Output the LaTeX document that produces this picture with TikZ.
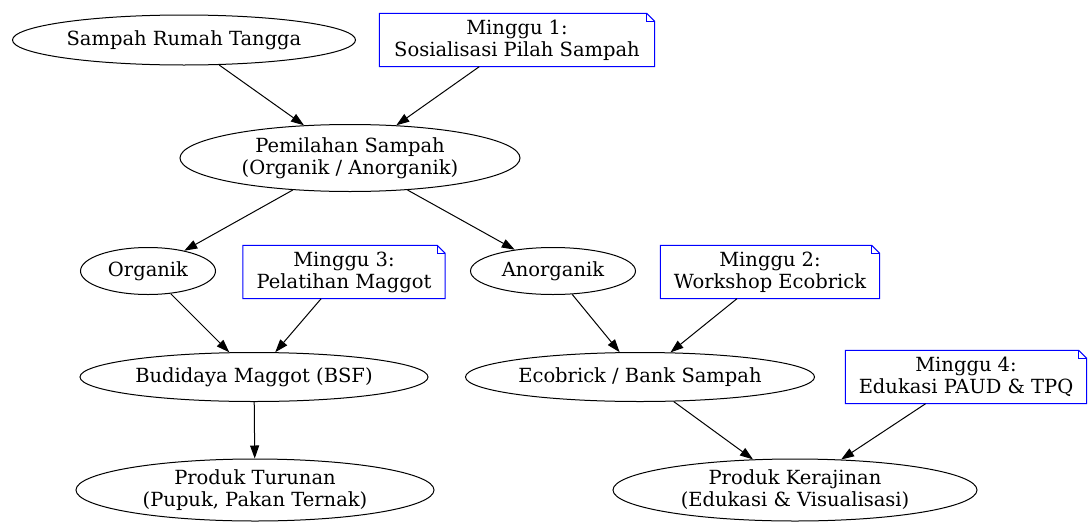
\documentclass[tikz,border=0pt]{standalone}
\usepackage{fontspec}
\setmainfont{DejaVu Serif}
\usetikzlibrary{shapes.geometric,arrows.meta}
\tikzset{
  oval/.style={draw,ellipse,align=center,inner sep=0pt,line width=1pt,font=\fontsize{19.5}{22}\selectfont},
  memo/.style={align=center,inner sep=2pt,font=\fontsize{19.5}{22}\selectfont,minimum height=53pt},
  flow/.style={-{Triangle[length=13pt,width=9pt]},line width=1pt}
}
% folded corner note outline
\newcommand{\foldnote}[1]{%
  \draw[blue,line width=1pt] (#1.north west) -- ([xshift=-8pt]#1.north east)
    -- ([yshift=-8pt]#1.north east) -- (#1.south east) -- (#1.south west) -- cycle;
  \draw[blue,line width=1pt] ([xshift=-8pt]#1.north east) |- ([yshift=-8pt]#1.north east);}
\begin{document}
\begin{tikzpicture}[x=1pt,y=-1pt]
\useasboundingbox (0,0) rectangle (1092,525);
% top row
\node[oval,minimum width=343pt,minimum height=50pt] (rumah) at (184,40) {Sampah Rumah Tangga};
\node[memo,minimum width=275pt] (m1) at (517,40) {Minggu 1:\\Sosialisasi Pilah Sampah};
\node[oval,minimum width=340pt,minimum height=67pt] (pilah) at (350,158) {Pemilahan Sampah\\(Organik / Anorganik)};
% second row
\node[oval,minimum width=135pt,minimum height=47pt] (org) at (148,271) {Organik};
\node[memo,minimum width=202pt] (m3) at (344,272) {Minggu 3:\\Pelatihan Maggot};
\node[oval,minimum width=165pt,minimum height=47pt] (anorg) at (553,271) {Anorganik};
\node[memo,minimum width=219pt] (m2) at (770,272) {Minggu 2:\\Workshop Ecobrick};
% third row
\node[oval,minimum width=348pt,minimum height=49pt] (maggot) at (254,377) {Budidaya Maggot (BSF)};
\node[oval,minimum width=349pt,minimum height=49pt] (eco) at (640,377) {Ecobrick / Bank Sampah};
\node[memo,minimum width=241pt] (m4) at (966,377) {Minggu 4:\\Edukasi PAUD \& TPQ};
% bottom row
\node[oval,minimum width=358pt,minimum height=62pt] (turunan) at (255,490) {Produk Turunan\\(Pupuk, Pakan Ternak)};
\node[oval,minimum width=364pt,minimum height=62pt] (kerajinan) at (795,490) {Produk Kerajinan\\(Edukasi \& Visualisasi)};
\foldnote{m1}
\foldnote{m2}
\foldnote{m3}
\foldnote{m4}
% edges
\draw[flow] (rumah) -- (pilah);
\draw[flow] (m1) -- (pilah);
\draw[flow] (pilah) -- (org);
\draw[flow] (pilah) -- (anorg);
\draw[flow] (org) -- (maggot);
\draw[flow] (m3) -- (maggot);
\draw[flow] (anorg) -- (eco);
\draw[flow] (m2) -- (eco);
\draw[flow] (maggot) -- (turunan);
\draw[flow] (eco) -- (kerajinan);
\draw[flow] (m4) -- (kerajinan);
\end{tikzpicture}
\end{document}
